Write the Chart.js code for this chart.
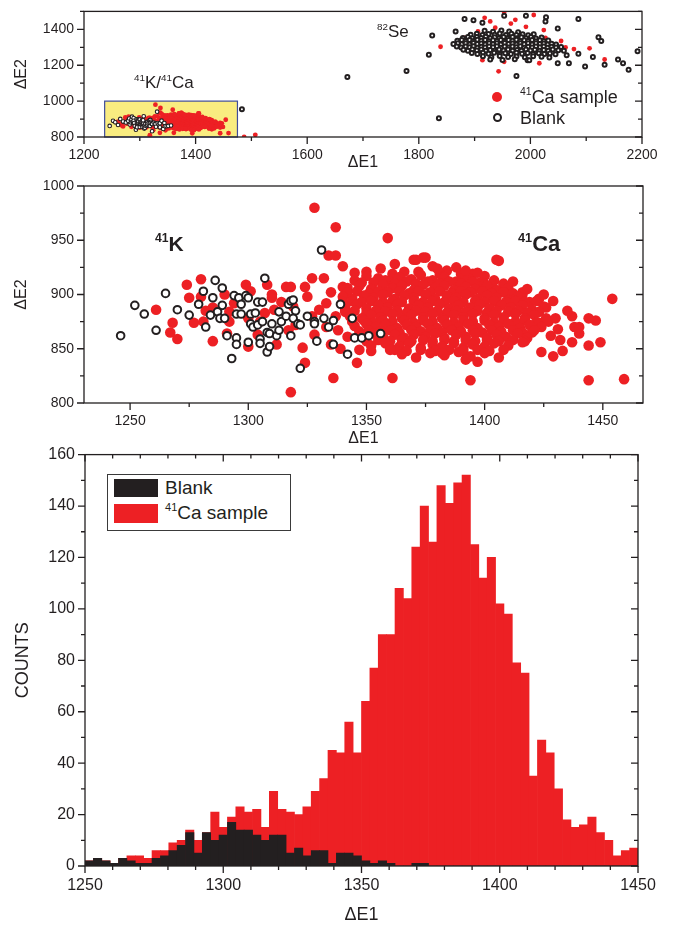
<!DOCTYPE html>
<html>
<head>
<meta charset="utf-8">
<script src="https://cdn.jsdelivr.net/npm/chart.js@4.4.0/dist/chart.umd.min.js"></script>
<style>
  body { margin: 0; background: #fff; width: 687px; height: 931px; position: relative; overflow: hidden;
         font-family: "Liberation Sans", Arial, sans-serif; color: #231f20; }
  canvas { position: absolute; left: 0; }
  .note { position: absolute; white-space: nowrap; line-height: 1; }
  .note sup { font-size: 0.58em; position: relative; top: -0.1em; vertical-align: top; }
  .dot { position: absolute; border-radius: 50%; box-sizing: border-box; }
  .legend-box { position: absolute; border: 1px solid #3a3a3a; background: #fff; }
  .swatch { position: absolute; }
</style>
</head>
<body>
<canvas id="overview" width="687" height="172" style="top:0"></canvas>
<canvas id="zoomed" width="687" height="276" style="top:172px"></canvas>
<canvas id="hist" width="687" height="484" style="top:442px"></canvas>

<!-- panel 1 annotations -->
<div class="note" style="left:134px;top:74px;font-size:17px"><sup>41</sup>K/<sup>41</sup>Ca</div>
<div class="note" style="left:377px;top:23px;font-size:17px"><sup>82</sup>Se</div>
<div class="dot" style="left:492px;top:92px;width:10px;height:10px;background:#ed2024"></div>
<div class="note" style="left:520px;top:88px;font-size:18px"><sup>41</sup>Ca sample</div>
<div class="dot" style="left:493px;top:113px;width:9px;height:9px;border:2px solid #231f20"></div>
<div class="note" style="left:520px;top:109px;font-size:18px">Blank</div>

<!-- panel 2 annotations -->
<div class="note" style="left:155px;top:233px;font-size:21px;font-weight:bold"><sup>41</sup>K</div>
<div class="note" style="left:518px;top:233px;font-size:22px;font-weight:bold"><sup>41</sup>Ca</div>

<!-- panel 3 legend -->
<div class="legend-box" style="left:107px;top:474px;width:182px;height:55px">
  <div class="swatch" style="left:6px;top:4px;width:44px;height:18px;background:#231f20"></div>
  <div class="note" style="left:57px;top:3px;font-size:19px">Blank</div>
  <div class="swatch" style="left:6px;top:29px;width:44px;height:19px;background:#ed2024"></div>
  <div class="note" style="left:57px;top:28px;font-size:19px"><sup>41</sup>Ca sample</div>
</div>

<script>
const ink = '#231f20';
const red = '#ed2024';

// ---- panel 1 : full dE1 / dE2 map ----
const ovXTicks = [1200, 1300, 1400, 1500, 1600, 1700, 1800, 1900, 2000, 2100, 2200];
const ovXLabels = [1200, 1400, 1600, 1800, 2000, 2200];
const ovYTicks = [800, 900, 1000, 1100, 1200, 1300, 1400, 1500];
const ovYLabels = [800, 1000, 1200, 1400];
const gateX = [1237, 1475];
const gateY = [800, 1000];

// ---- panel 2 : 41K / 41Ca region ----
const zmXTicks = [1250, 1275, 1300, 1325, 1350, 1375, 1400, 1425, 1450];
const zmXLabels = [1250, 1300, 1350, 1400, 1450];
const zmYTicks = [800, 825, 850, 875, 900, 925, 950, 975, 1000];
const zmYLabels = [800, 850, 900, 950, 1000];

// ---- panel 3 : dE1 histogram ----
const hsXTicks = [1250, 1260, 1270, 1280, 1290, 1300, 1310, 1320, 1330, 1340, 1350, 1360, 1370, 1380, 1390, 1400, 1410, 1420, 1430, 1440, 1450];
const hsXLabels = [1250, 1300, 1350, 1400, 1450];
const hsYTicks = [0, 10, 20, 30, 40, 50, 60, 70, 80, 90, 100, 110, 120, 130, 140, 150, 160];
const hsYLabels = [0, 20, 40, 60, 80, 100, 120, 140, 160];
const binRange = [1250, 1450];

// counts per bin, 66 bins over binRange
const histBlank = [2, 3, 2, 1, 3, 2, 1, 1, 3, 4, 6, 8, 13, 5, 13, 10, 12, 17, 14, 14,
                   12, 10, 12, 12, 5, 7, 4, 6, 6, 1, 5, 5, 4, 2, 1, 2, 1, 0, 0, 1,
                   1, 0, 0, 0, 0, 0, 0, 0, 0, 0, 0, 0, 0, 0, 0, 0, 0, 0, 0, 0,
                   0, 0, 0, 0, 0, 0];
const histCa = [2, 3, 2, 1, 3, 4, 4, 3, 6, 6, 9, 10, 14, 10, 13, 21, 15, 19, 23, 21,
                22, 15, 29, 22, 21, 20, 23, 29, 34, 45, 44, 56, 44, 64, 77, 90, 90, 108, 104, 124,
                140, 126, 148, 141, 149, 152, 125, 112, 120, 102, 98, 79, 75, 35, 49, 44, 30, 18, 15, 16,
                19, 13, 10, 4, 6, 7];

// blank events in the 41K/41Ca gate [dE1, dE2]
const kBlank = [
  [1246,862],[1252,890],[1256,882],[1261,867],[1265,901],[1270,886],[1275,881],[1279,891],[1281,903],[1282,870],
  [1284,881],[1285,897],[1286,913],[1287,884],[1288,878],[1289,906],[1289,890],[1290,878],[1291,862],[1293,841],
  [1294,899],[1295,882],[1295,860],[1295,854],[1296,897],[1297,882],[1297,891],[1299,899],[1300,897],[1301,882],
  [1300,856],[1301,873],[1302,870],[1303,883],[1304,872],[1304,893],[1305,859],[1305,855],[1306,875],[1306,893],
  [1307,915],[1308,847],[1308,865],[1309,852],[1309,864],[1310,873],[1312,862],[1313,867],[1313,884],[1314,875],
  [1316,880],[1317,891],[1318,894],[1318,862],[1319,895],[1320,885],[1319,878],[1321,873],[1322,832],[1322,872],
  [1325,880],[1328,875],[1328,873],[1329,857],[1331,941],[1332,878],[1334,870],[1336,876],[1336,854],[1339,891],
  [1342,845],[1344,878],[1345,860],[1348,860],[1351,862],[1356,864]
];

// 41Ca sample events in the 41K/41Ca gate [dE1, dE2]
const kCa = [
  // stray events
  [1328,980],[1337,962],[1334,936],[1337,936],[1359,952],[1405,932],[1370,932],[1374,934],[1318,810],[1336,823],
  [1361,823],[1394,821],[1444,821],[1459,822],[1454,896],[1447,876],[1449,856],[1444,878],[1444,853],[1440,864],
  [1438,870],[1437,880],[1431,868],[1432,858],[1429,843],[1429,894],[1424,847],[1423,896],[1426,888],[1423,874],
  [1420,865],[1416,900],[1411,900],[1408,909],
  // low dE1 tail
  [1261,886],[1267,865],[1268,874],[1270,859],[1274,909],[1275,897],[1277,874],[1280,914],[1280,898],[1281,875],
  [1285,857],[1285,888],[1282,885],[1290,900],[1292,884],[1292,875],[1291,864],[1294,892],[1299,909],[1300,878],
  [1300,852],[1301,903],[1304,863],[1305,875],[1307,883],[1308,909],[1310,900],[1310,897],[1311,886],[1312,854],
  [1314,893],[1316,907],[1317,867],[1318,907],[1319,889],[1320,872],[1323,851],[1324,837],[1324,907],[1325,898],
  [1327,915],[1327,880],[1328,863],[1330,886],[1332,915],[1333,892],[1333,870],[1335,854],[1335,902],[1337,880],
  [1338,867],[1339,850],[1340,907],[1340,926],[1341,886],[1342,861],[1345,920],[1346,837],[1347,849],
  // main 41Ca peak
  [1356,924],[1366,921],[1378,926],[1384,922],[1390,919],
  [1350,921],[1361,919],[1372,921],[1381,919],[1395,919],[1400,917],
  [1345,913],[1350,917],[1355,915],[1360,912],[1364,916],[1369,914],[1373,918],[1378,913],[1383,916],[1388,912],
  [1393,915],[1398,911],[1404,913],
  [1348,911],[1353,911],[1358,913],[1362,910],[1367,912],[1371,910],[1376,912],[1381,910],[1385,912],[1390,910],
  [1395,912],[1400,910],[1403,909],[1408,910],
  [1342,906],[1347,908],[1352,905],[1357,909],[1361,906],[1365,908],[1370,904],[1374,909],[1379,906],[1383,908],
  [1387,904],[1392,907],[1396,905],[1401,908],[1405,904],[1410,906],
  [1342,902],[1346,903],[1351,901],[1355,903],[1359,902],[1364,903],[1368,901],[1372,903],[1377,902],[1381,903],
  [1386,901],[1390,903],[1394,902],[1399,903],[1403,901],[1408,902],[1412,901],[1416,902],
  [1340,898],[1344,896],[1349,899],[1353,897],[1357,900],[1362,896],[1366,899],[1370,897],[1375,900],[1379,896],
  [1384,899],[1388,897],[1392,900],[1397,896],[1401,899],[1405,897],[1410,895],[1414,898],[1419,893],
  [1340,893],[1344,894],[1348,893],[1352,894],[1357,893],[1361,894],[1365,893],[1370,894],[1374,893],[1378,894],
  [1383,893],[1387,894],[1391,893],[1396,894],[1400,893],[1404,894],[1409,893],[1413,894],[1417,893],[1422,894],
  [1341,889],[1346,891],[1350,887],[1355,890],[1359,888],[1363,891],[1368,887],[1372,890],[1376,888],[1381,891],
  [1385,887],[1389,890],[1394,888],[1398,891],[1402,887],[1407,890],[1411,888],[1416,890],[1420,886],[1425,889],
  [1341,884],[1345,885],[1350,883],[1354,885],[1358,884],[1363,885],[1367,883],[1371,885],[1375,884],[1380,885],
  [1384,883],[1388,885],[1392,884],[1397,885],[1401,883],[1405,885],[1410,884],[1414,885],[1418,883],[1423,884],
  [1343,880],[1348,878],[1352,881],[1356,879],[1361,882],[1365,878],[1369,881],[1374,879],[1378,882],[1382,878],
  [1387,881],[1391,879],[1395,882],[1400,878],[1404,881],[1408,879],[1413,882],[1417,878],[1421,881],[1426,878],
  [1344,875],[1349,876],[1353,874],[1357,876],[1361,875],[1366,876],[1370,874],[1374,876],[1378,875],[1383,876],
  [1387,874],[1391,876],[1395,875],[1400,876],[1404,874],[1408,876],[1413,875],[1417,876],[1422,874],[1427,875],
  [1345,871],[1350,873],[1354,870],[1358,872],[1363,869],[1367,872],[1371,870],[1376,873],[1380,869],[1384,872],
  [1389,870],[1393,873],[1397,869],[1402,872],[1406,870],[1410,873],[1415,869],[1419,872],[1424,870],
  [1347,866],[1351,867],[1356,866],[1360,867],[1364,865],[1369,867],[1373,866],[1377,867],[1382,865],[1386,867],
  [1390,866],[1395,867],[1399,865],[1403,867],[1407,866],[1412,867],[1416,865],[1421,867],
  [1348,862],[1353,864],[1357,861],[1362,863],[1366,860],[1370,863],[1375,861],[1379,864],[1383,860],[1388,863],
  [1392,861],[1396,864],[1401,860],[1405,863],[1409,861],[1414,864],[1418,860],
  [1350,857],[1355,858],[1360,857],[1365,858],[1369,857],[1374,858],[1378,857],[1383,858],[1387,857],[1392,858],
  [1396,857],[1401,858],[1406,857],[1412,858],[1417,857],
  [1352,853],[1358,855],[1364,852],[1368,855],[1373,851],[1378,854],[1382,852],[1387,855],[1391,851],[1395,854],
  [1400,852],[1404,855],[1410,853],[1416,856],
  [1362,849],[1367,848],[1373,849],[1379,848],[1385,849],[1391,848],[1397,849],[1402,848],[1408,849],
  [1365,845],[1371,842],[1377,846],[1383,844],[1389,847],[1394,843],[1400,846],[1406,842],
  [1382,846],[1392,840],[1397,838],[1360,849],[1352,848],
  [1412,912],[1418,905],[1425,900],[1430,878],[1435,885],[1440,870],[1428,862],[1433,848],[1437,856],
  [1362,928],[1371,932],[1375,934],[1388,925],[1392,922],[1397,920],[1406,931],[1380,924]
];

// blank events in the 82Se cluster and strays [dE1, dE2]
const seBlank = [
  [1918,1392],[1933,1386],[1948,1394],[1962,1388],[1978,1384],
  [1893,1370],[1904,1376],[1914,1368],[1925,1374],[1936,1370],[1945,1377],[1956,1369],[1966,1375],[1975,1368],[1986,1373],[1996,1367],[2006,1372],
  [1879,1352],[1888,1358],[1896,1350],[1904,1357],[1912,1352],[1920,1359],[1928,1351],[1936,1356],[1944,1350],[1952,1358],
  [1960,1352],[1968,1357],[1976,1350],[1984,1356],[1992,1351],[2001,1357],[2010,1349],[2020,1354],
  [1869,1336],[1877,1341],[1884,1334],[1891,1340],[1898,1335],[1905,1342],[1912,1336],[1919,1340],[1926,1333],[1933,1339],
  [1940,1335],[1947,1341],[1954,1334],[1961,1340],[1968,1336],[1975,1342],[1982,1334],[1989,1339],[1996,1335],[2003,1341],
  [2010,1333],[2017,1339],[2024,1334],[2032,1338],
  [1862,1318],[1870,1323],[1877,1317],[1884,1322],[1891,1316],[1898,1324],[1905,1318],[1912,1321],[1919,1315],[1926,1323],
  [1933,1317],[1940,1322],[1947,1316],[1954,1324],[1961,1318],[1968,1321],[1975,1315],[1982,1323],[1989,1317],[1996,1322],
  [2003,1316],[2010,1323],[2017,1318],[2024,1321],[2031,1315],[2038,1320],[2046,1316],
  [1868,1304],[1876,1299],[1884,1305],[1891,1300],[1898,1306],[1905,1298],[1912,1303],[1919,1299],[1926,1305],[1933,1300],
  [1940,1306],[1947,1298],[1954,1304],[1961,1299],[1968,1305],[1975,1300],[1982,1306],[1989,1298],[1996,1303],[2003,1299],
  [2010,1305],[2017,1300],[2024,1304],[2031,1298],[2038,1303],[2046,1299],[2055,1302],
  [1880,1286],[1888,1281],[1896,1287],[1904,1282],[1912,1288],[1920,1280],[1928,1285],[1936,1281],[1944,1287],[1952,1282],
  [1960,1288],[1968,1280],[1976,1285],[1984,1281],[1992,1287],[2000,1282],[2008,1286],[2016,1280],[2024,1285],[2032,1281],
  [2040,1287],[2050,1283],[2060,1280],
  [1895,1268],[1905,1263],[1915,1269],[1925,1264],[1935,1270],[1945,1262],[1955,1267],[1965,1263],[1975,1269],[1985,1264],
  [1995,1268],[2005,1262],[2015,1267],[2025,1263],[2035,1266],[2045,1261],
  [1915,1250],[1930,1245],[1945,1251],[1960,1246],[1975,1249],[1990,1244],[2005,1250],[2020,1247],[2034,1243],
  [1928,1232],[1950,1229],[1972,1234],[1995,1228],
  [2192,1278],[2157,1232],[2176,1175],[2122,1356],[2127,1335],[2098,1193],[2086,1264],[2049,1405],[2028,1467],[2027,1444],
  [1882,1458],[1898,1450],[2086,1458],[2049,1211],[2069,1211],[1998,1228],[1818,1258],[1824,1365],[1975,1140],[1866,1388],
  [1914,1437],[1953,1476],[1992,1476],[2166,1211],[2133,1202],[2112,1246],[2065,1255],[1672,1135],[1778,1168],[1836,905],
  [1483,955]
];

// 41Ca sample events in the 82Se cluster and strays [dE1, dE2]
const seCa = [
  [2006,1480],[1953,1497],[1918,1464],[1928,1444],[1965,1432],[1973,1453],[1937,1409],[2027,1352],[2063,1299],[2078,1290],
  [2106,1294],[2055,1335],[1943,1166],[1839,1303],[2016,1211],[1953,1219],[2133,1232],[2031,1264],[1914,1228],[1882,1352],
  [1906,1388],[1992,1414],[2024,1396],[1487,800],[1507,812]
];

const toXY = pts => pts.map(p => ({ x: p[0], y: p[1] }));

// axis ticks (minor/major) and frame, drawn from the chart's scales
const framePlugin = {
    id: 'frame',
    afterDatasetsDraw(chart, args, opts) {
        const { ctx, chartArea: a, scales } = chart;
        ctx.save();
        ctx.strokeStyle = ink;
        ctx.lineWidth = 1.3;
        ctx.strokeRect(a.left, a.top, a.right - a.left, a.bottom - a.top);
        ctx.beginPath();
        scales.x.ticks.forEach(t => {
            const px = scales.x.getPixelForValue(t.value);
            const len = t.label !== '' ? 7 : 4;
            ctx.moveTo(px, a.bottom); ctx.lineTo(px, a.bottom + len);
            if (opts.top) { ctx.moveTo(px, a.top); ctx.lineTo(px, a.top + len); }
        });
        scales.y.ticks.forEach(t => {
            const py = scales.y.getPixelForValue(t.value);
            const len = t.label !== '' ? 7 : 4;
            ctx.moveTo(a.left - len, py); ctx.lineTo(a.left, py);
            ctx.moveTo(a.right - len, py); ctx.lineTo(a.right, py);
        });
        ctx.stroke();
        ctx.restore();
    }
};

// yellow 41K/41Ca gate on the overview map
const gatePlugin = {
    id: 'gate',
    beforeDatasetsDraw(chart, args, opts) {
        if (!opts.show) return;
        const { ctx, scales } = chart;
        const x0 = scales.x.getPixelForValue(gateX[0]);
        const x1 = scales.x.getPixelForValue(gateX[1]);
        const y0 = scales.y.getPixelForValue(gateY[1]);
        const y1 = scales.y.getPixelForValue(gateY[0]);
        ctx.save();
        ctx.fillStyle = '#f9ec80';
        ctx.fillRect(x0, y0, x1 - x0, y1 - y0);
        ctx.strokeStyle = '#3f4c9b';
        ctx.lineWidth = 1.2;
        ctx.strokeRect(x0, y0, x1 - x0, y1 - y0);
        ctx.restore();
    }
};

function axis(tickVals, labelVals, min, max, title, fontSize, fit, titlePad) {
    return {
        type: 'linear',
        min: min,
        max: max,
        offset: false,
        afterBuildTicks: s => { s.ticks = tickVals.map(v => ({ value: v })); },
        afterFit: fit,
        grid: { display: false, drawTicks: true, tickLength: 7 },
        border: { display: false },
        ticks: {
            autoSkip: false,
            maxRotation: 0,
            padding: 3,
            color: ink,
            font: { family: 'Liberation Sans', size: fontSize },
            callback: v => labelVals.includes(v) ? String(v) : ''
        },
        title: { display: true, text: title, color: ink, font: { family: 'Liberation Sans', size: fontSize + 2 },
                 padding: titlePad || 0 }
    };
}

const common = {
    responsive: false,
    animation: false,
    events: [],
    plugins: { legend: { display: false }, tooltip: { enabled: false } }
};

new Chart(document.getElementById('overview'), {
    type: 'scatter',
    data: {
        datasets: [
            { data: toXY(kBlank), pointRadius: 1.8, borderWidth: 1.1, borderColor: ink, backgroundColor: '#fff' },
            { data: toXY(seBlank), pointRadius: 2, borderWidth: 2, borderColor: ink, backgroundColor: '#fff' },
            { data: toXY(kCa), pointRadius: 2.4, borderWidth: 0, backgroundColor: red },
            { data: toXY(seCa), pointRadius: 2.4, borderWidth: 0, backgroundColor: red }
        ]
    },
    options: {
        ...common,
        layout: { padding: { top: 5, right: 45, left: 0, bottom: 0 } },
        plugins: { ...common.plugins, gate: { show: true }, frame: {} },
        scales: {
            x: axis(ovXTicks, ovXLabels, 1200, 2200, 'ΔE1', 14, s => { s.height = 35; }),
            y: axis(ovYTicks, ovYLabels, 800, 1500, 'ΔE2', 14, s => { s.width = 84; }, { top: 12, bottom: 0 })
        }
    },
    plugins: [gatePlugin, framePlugin]
});

new Chart(document.getElementById('zoomed'), {
    type: 'scatter',
    data: {
        datasets: [
            { data: toXY(kBlank), pointRadius: 3.8, borderWidth: 2, borderColor: ink, backgroundColor: '#fff' },
            { data: toXY(kCa), pointRadius: 5.3, borderWidth: 0, backgroundColor: red }
        ]
    },
    options: {
        ...common,
        layout: { padding: { top: 14, right: 44, left: 0, bottom: 0 } },
        plugins: { ...common.plugins, frame: {} },
        scales: {
            x: axis(zmXTicks, zmXLabels, 1230.5, 1467, 'ΔE1', 14, s => { s.height = 45; }),
            y: axis(zmYTicks, zmYLabels, 800, 1000, 'ΔE2', 14, s => { s.width = 84; }, { top: 12, bottom: 0 })
        }
    },
    plugins: [framePlugin]
});

const binWidth = (binRange[1] - binRange[0]) / histCa.length;
const binCenters = histCa.map((c, i) => binRange[0] + (i + 0.5) * binWidth);

new Chart(document.getElementById('hist'), {
    type: 'bar',
    data: {
        datasets: [
            { label: 'Blank', data: histBlank.map((c, i) => ({ x: binCenters[i], y: c })),
              backgroundColor: ink, grouped: false, barPercentage: 1, categoryPercentage: 1, borderWidth: 0 },
            { label: '41Ca sample', data: histCa.map((c, i) => ({ x: binCenters[i], y: c })),
              backgroundColor: red, grouped: false, barPercentage: 1, categoryPercentage: 1, borderWidth: 0 }
        ]
    },
    options: {
        ...common,
        layout: { padding: { top: 11, right: 49, left: 0, bottom: 0 } },
        plugins: { ...common.plugins, frame: { top: true } },
        scales: {
            x: axis(hsXTicks, hsXLabels, 1250, 1450, 'ΔE1', 16, s => { s.height = 60; }),
            y: axis(hsYTicks, hsYLabels, 0, 160, 'COUNTS', 16, s => { s.width = 85; }, { top: 12, bottom: 0 })
        }
    },
    plugins: [framePlugin]
});
</script>
</body>
</html>
